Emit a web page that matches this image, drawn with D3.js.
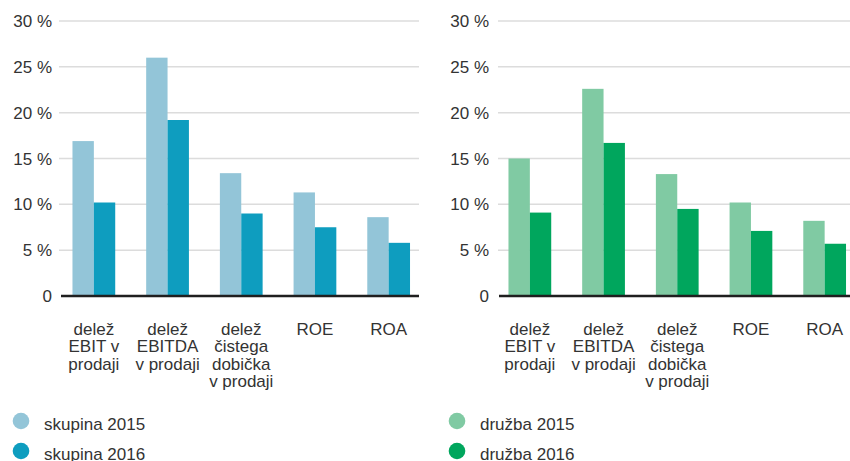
<!DOCTYPE html>
<html>
<head>
<meta charset="utf-8">
<script src="https://cdn.jsdelivr.net/npm/d3@7"></script>
<style>
  body { margin: 0; background: #fff; }
  svg text { font-family: "Liberation Sans", Arial, sans-serif; fill: #333; }
</style>
</head>
<body>
<div id="chart"></div>
<script>
var categories = ["delež EBIT v prodaji", "delež EBITDA v prodaji", "delež čistega dobička v prodaji", "ROE", "ROA"];
var categoryLines = [
    ["delež", "EBIT v", "prodaji"],
    ["delež", "EBITDA", "v prodaji"],
    ["delež", "čistega", "dobička", "v prodaji"],
    ["ROE"],
    ["ROA"]
];
var yTicks = [0, 5, 10, 15, 20, 25, 30];

var skupina2015 = [16.9, 26.0, 13.4, 11.3, 8.6];
var skupina2016 = [10.2, 19.2, 9.0, 7.5, 5.8];
var druzba2015 = [15.0, 22.6, 13.3, 10.2, 8.2];
var druzba2016 = [9.1, 16.7, 9.5, 7.1, 5.7];

var panels = [
    {
        series: [
            { name: "skupina 2015", values: skupina2015, color: "#93c5d8" },
            { name: "skupina 2016", values: skupina2016, color: "#0e9dbf" }
        ],
        band: [57, 425.5], grid: [59, 419], axis: [61, 419], tickX: 52,
        legendX: 21
    },
    {
        series: [
            { name: "družba 2015", values: druzba2015, color: "#80caa3" },
            { name: "družba 2016", values: druzba2016, color: "#00a65d" }
        ],
        band: [493, 861.5], grid: [498, 850], axis: [499, 850], tickX: 489,
        legendX: 457
    }
];

var width = 850, height = 461;

var svg = d3.select("#chart").append("svg")
    .attr("width", width)
    .attr("height", height);

var y = d3.scaleLinear()
    .domain([0, 30])
    .range([296, 21]);

panels.forEach(function (p) {
    var g = svg.append("g");

    var x0 = d3.scaleBand()
        .domain(categories)
        .range(p.band)
        .paddingInner(0.42)
        .paddingOuter(0.21);

    var x1 = d3.scaleBand()
        .domain(p.series.map(function (s) { return s.name; }))
        .range([0, x0.bandwidth()]);

    // gridlines
    g.selectAll(".grid")
        .data(yTicks.filter(function (t) { return t > 0; }))
        .enter().append("line")
        .attr("class", "grid")
        .attr("x1", p.grid[0])
        .attr("x2", p.grid[1])
        .attr("y1", function (d) { return y(d); })
        .attr("y2", function (d) { return y(d); })
        .attr("stroke", "#dcdcdc")
        .attr("stroke-width", 1.5);

    // y tick labels
    g.selectAll(".ytick")
        .data(yTicks)
        .enter().append("text")
        .attr("class", "ytick")
        .attr("x", p.tickX)
        .attr("y", function (d) { return y(d); })
        .attr("dy", "0.36em")
        .attr("text-anchor", "end")
        .style("font-size", "17px")
        .text(function (d) { return d === 0 ? "0" : d + " %"; });

    // bars
    p.series.forEach(function (s) {
        g.selectAll(null)
            .data(s.values)
            .enter().append("rect")
            .attr("x", function (d, i) { return x0(categories[i]) + x1(s.name); })
            .attr("y", function (d) { return y(d); })
            .attr("width", x1.bandwidth())
            .attr("height", function (d) { return y(0) - y(d); })
            .attr("fill", s.color);
    });

    // baseline
    g.append("line")
        .attr("x1", p.axis[0])
        .attr("x2", p.axis[1])
        .attr("y1", y(0))
        .attr("y2", y(0))
        .attr("stroke", "#1f1f1f")
        .attr("stroke-width", 2.5);

    // category labels
    var labels = g.selectAll(".cat")
        .data(categories)
        .enter().append("text")
        .attr("class", "cat")
        .attr("text-anchor", "middle")
        .style("font-size", "17px")
        .attr("transform", function (d) {
            return "translate(" + (x0(d) + x0.bandwidth() / 2) + ",335)";
        });
    labels.selectAll("tspan")
        .data(function (d, i) { return categoryLines[i]; })
        .enter().append("tspan")
        .attr("x", 0)
        .attr("y", function (d, i) { return i * 17.4; })
        .text(function (d) { return d; });

    // legend
    var leg = g.selectAll(".legend")
        .data(p.series)
        .enter().append("g")
        .attr("class", "legend")
        .attr("transform", function (d, i) {
            return "translate(" + p.legendX + "," + (421 + i * 30) + ")";
        });
    leg.append("circle")
        .attr("r", 8.3)
        .attr("fill", function (d) { return d.color; });
    leg.append("text")
        .attr("x", 23)
        .attr("y", 9)
        .style("font-size", "17px")
        .text(function (d) { return d.name; });
});
</script>
</body>
</html>
